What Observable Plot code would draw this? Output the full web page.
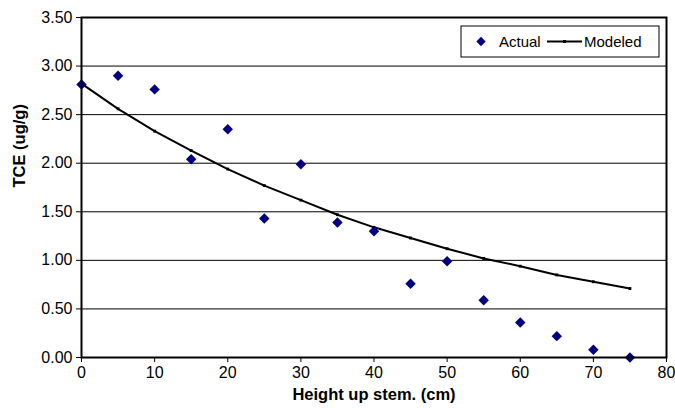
<!DOCTYPE html>
<html>
<head>
<meta charset="utf-8">
<script src="https://cdn.jsdelivr.net/npm/d3@7"></script>
<script src="https://cdn.jsdelivr.net/npm/@observablehq/plot@0.6"></script>
<style>
  html, body { margin: 0; padding: 0; background: #fff; }
  #chart { position: relative; width: 675px; height: 408px; }
  svg { font-family: "Liberation Sans", Arial, sans-serif; }
</style>
</head>
<body>
<div id="chart"></div>
<script>
const heights = [0, 5, 10, 15, 20, 25, 30, 35, 40, 45, 50, 55, 60, 65, 70, 75];
const actual = [2.81, 2.90, 2.76, 2.04, 2.35, 1.43, 1.99, 1.39, 1.30, 0.76, 0.99, 0.59, 0.36, 0.22, 0.08, 0.00];
const modeled = [2.82, 2.56, 2.33, 2.13, 1.94, 1.77, 1.62, 1.47, 1.34, 1.23, 1.12, 1.02, 0.94, 0.85, 0.78, 0.71];
const xTicks = [0, 10, 20, 30, 40, 50, 60, 70, 80];
const yTicks = [0, 0.5, 1, 1.5, 2, 2.5, 3, 3.5];
const seriesNames = ["Actual", "Modeled"];

const actualData = heights.map((h, i) => ({h, v: actual[i]}));
const modeledData = heights.map((h, i) => ({h, v: modeled[i]}));

const FONT = "Liberation Sans, Arial, sans-serif";

const plot = Plot.plot({
  width: 675,
  height: 408,
  marginLeft: 81,
  marginRight: 9,
  marginTop: 17,
  marginBottom: 51,
  style: {fontFamily: FONT, fontSize: "16px", color: "#000", background: "#fff"},
  x: {domain: [0, 80], ticks: xTicks, tickFormat: d => d, label: null},
  y: {domain: [0, 3.5], ticks: yTicks, tickFormat: d => d.toFixed(2), label: null},
  marks: [
    Plot.ruleY(yTicks, {stroke: "#000", strokeWidth: 1}),
    Plot.axisX({ticks: xTicks, tickSize: 5, tickPadding: 4, fontSize: 16, tickFormat: d => d, label: null}),
    Plot.axisY({ticks: yTicks, tickSize: 5, tickPadding: 4, fontSize: 16, tickFormat: d => d.toFixed(2), label: null}),
    Plot.line(modeledData, {x: "h", y: "v", stroke: "#000", strokeWidth: 2}),
    Plot.dot(modeledData, {x: "h", y: "v", symbol: "square", r: 1.6, fill: "#000"}),
    Plot.dot(actualData, {x: "h", y: "v", symbol: "diamond2", r: 4.7, fill: "#000080", stroke: "none"}),
    Plot.frame({stroke: "#000", strokeWidth: 2}),
    Plot.text(["Height up stem. (cm)"], {frameAnchor: "bottom", dy: 42, text: d => d, fontWeight: "bold", fontSize: 16.5}),
    Plot.text(["TCE (ug/g)"], {frameAnchor: "left", dx: -62, rotate: -90, text: d => d, fontWeight: "bold", fontSize: 16.5})
  ]
});

// Legend inside the plot
const svg = d3.select(plot);
const g = svg.append("g").attr("transform", "translate(461,26)")
  .attr("text-anchor", "start").attr("font-family", FONT).attr("font-size", 15);
g.append("rect").attr("x", 0).attr("y", 0).attr("width", 198).attr("height", 31)
  .attr("fill", "#fff").attr("stroke", "#000").attr("stroke-width", 1);
g.append("path").attr("d", d3.symbol(d3.symbolDiamond2, 55)())
  .attr("transform", "translate(20,15.5)").attr("fill", "#000080");
g.append("text").attr("x", 38).attr("y", 21).attr("text-anchor", "start").text(seriesNames[0]);
g.append("line").attr("x1", 86).attr("x2", 121).attr("y1", 15.5).attr("y2", 15.5)
  .attr("stroke", "#000").attr("stroke-width", 2);
g.append("rect").attr("x", 102).attr("y", 14).attr("width", 3).attr("height", 3).attr("fill", "#000");
g.append("text").attr("x", 123).attr("y", 21).attr("text-anchor", "start").text(seriesNames[1]);

document.getElementById("chart").appendChild(plot);
</script>
</body>
</html>
